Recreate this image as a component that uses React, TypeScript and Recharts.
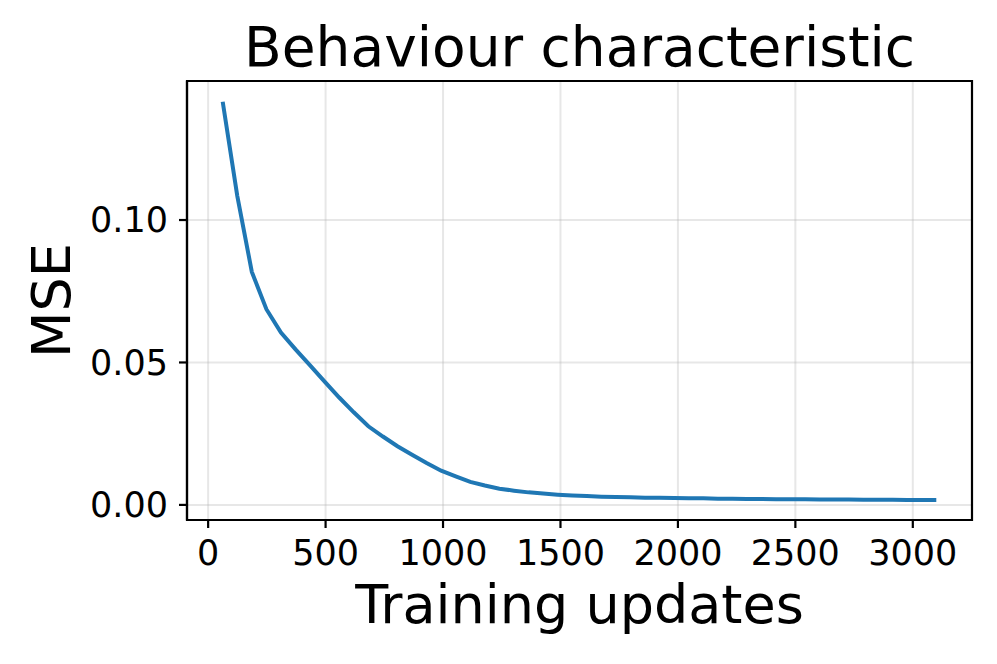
import React from 'react';
import { LineChart, Line, XAxis, YAxis, CartesianGrid, Label, ReferenceArea } from 'recharts';

// MSE, one point every 62 updates
const updates = [
  62, 124, 186, 248, 310, 372, 434, 496, 558, 620,
  682, 744, 806, 868, 930, 992, 1054, 1116, 1178, 1240,
  1302, 1364, 1426, 1488, 1550, 1612, 1674, 1736, 1798, 1860,
  1922, 1984, 2046, 2108, 2170, 2232, 2294, 2356, 2418, 2480,
  2542, 2604, 2666, 2728, 2790, 2852, 2914, 2976, 3038, 3100,
];
const mse = [
  0.1415, 0.1085, 0.0818, 0.0687, 0.0605, 0.0546, 0.0490, 0.0433, 0.0377, 0.0325,
  0.0276, 0.0240, 0.0206, 0.0176, 0.0147, 0.0120, 0.0100, 0.0081, 0.0068, 0.0057,
  0.0050, 0.0044, 0.0040, 0.0036, 0.0033, 0.0031, 0.0029, 0.0028, 0.0027, 0.0025,
  0.0025, 0.0024, 0.0023, 0.0023, 0.0022, 0.0022, 0.0021, 0.0021, 0.0020, 0.0020,
  0.0020, 0.0019, 0.0019, 0.0019, 0.0018, 0.0018, 0.0018, 0.0017, 0.0017, 0.0017,
];
const xTicks = [0, 500, 1000, 1500, 2000, 2500, 3000];
const yTicks = [0, 0.05, 0.1];

const X_DOMAIN = [-90, 3252];
const Y_DOMAIN = [-0.0053, 0.1488];

const data = updates.map((u, i) => ({ updates: u, mse: mse[i] }));

const FONT = '"DejaVu Sans", sans-serif';
const AXIS = { stroke: '#000', strokeWidth: 2.2 };
const TICK_STYLE = { fontSize: 35, fill: '#000', fontFamily: FONT };

const Title = () => (
  <text x={579.5} y={66} textAnchor="middle" fontSize={55} fontFamily={FONT} fill="#000">
    Behaviour characteristic
  </text>
);

const YTitle = () => (
  <text x={70} y={300.5} transform="rotate(-90, 70, 300.5)" textAnchor="middle" fontSize={54} fontFamily={FONT} fill="#000">
    MSE
  </text>
);

const XTitle = () => (
  <text x={579.5} y={623} textAnchor="middle" fontSize={54} fontFamily={FONT} fill="#000">
    Training updates
  </text>
);

export default function App() {
  return (
    <div style={{ position: 'absolute', left: 0, top: 0, width: 997, height: 664, background: '#fff' }}>
      <LineChart width={997} height={664} data={data} margin={{ top: 81, right: 25, bottom: 0, left: 0 }}>
        <CartesianGrid stroke="#b0b0b0" strokeOpacity={0.3} strokeWidth={2} />
        <XAxis
          dataKey="updates"
          type="number"
          domain={X_DOMAIN}
          ticks={xTicks}
          allowDataOverflow
          height={144}
          tickSize={8}
          tickMargin={12}
          axisLine={AXIS}
          tickLine={AXIS}
          tick={TICK_STYLE}
        >
          <Label content={<XTitle />} />
          <Label content={<Title />} />
        </XAxis>
        <YAxis
          type="number"
          domain={Y_DOMAIN}
          ticks={yTicks}
          allowDataOverflow
          width={187}
          tickSize={8}
          tickMargin={11}
          axisLine={AXIS}
          tickLine={AXIS}
          tick={TICK_STYLE}
          tickFormatter={(v: number) => v.toFixed(2)}
        >
          <Label content={<YTitle />} />
        </YAxis>
        <Line
          type="linear"
          dataKey="mse"
          stroke="#1f77b4"
          strokeWidth={4}
          dot={false}
          isAnimationActive={false}
        />
        <ReferenceArea
          x1={X_DOMAIN[0]}
          x2={X_DOMAIN[1]}
          y1={Y_DOMAIN[0]}
          y2={Y_DOMAIN[1]}
          fill="none"
          fillOpacity={0}
          stroke="#000"
          strokeWidth={2.2}
          ifOverflow="visible"
        />
      </LineChart>
    </div>
  );
}
